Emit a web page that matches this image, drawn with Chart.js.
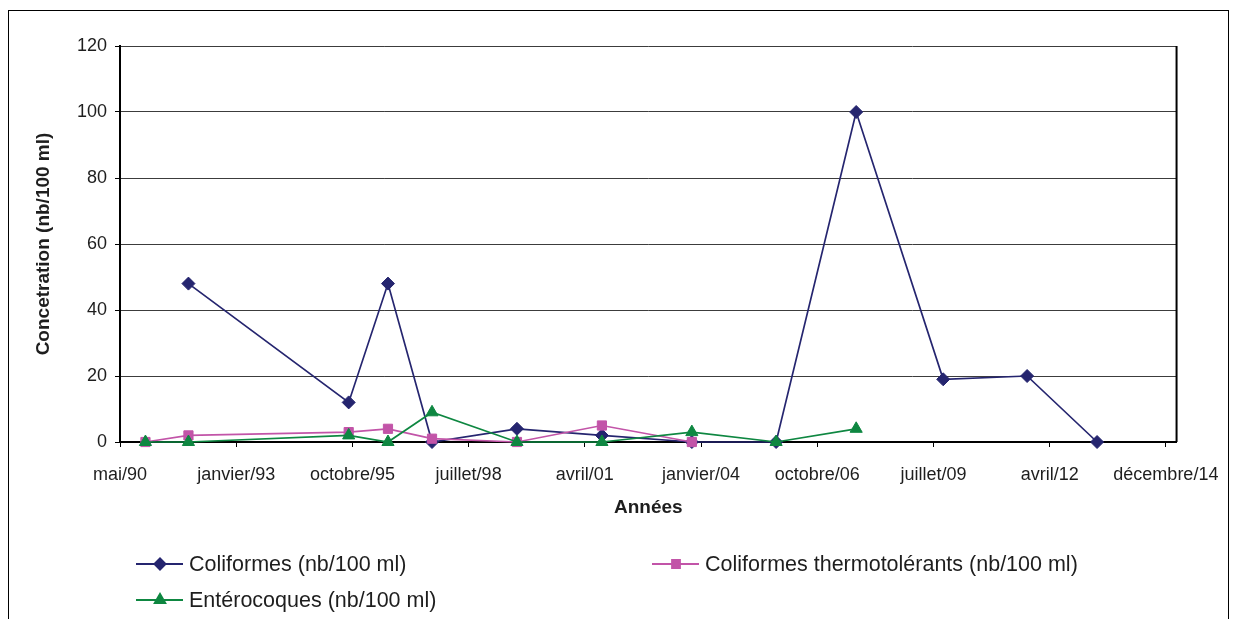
<!DOCTYPE html>
<html lang="fr">
<head>
<meta charset="utf-8">
<title>Concentration - coliformes et entérocoques</title>
<script src="https://cdn.jsdelivr.net/npm/chart.js@4.4.1/dist/chart.umd.min.js"></script>
<style>
  html, body { margin: 0; padding: 0; background: #fff; }
  #wrap { position: relative; width: 1236px; height: 619px; }
</style>
</head>
<body>
<div id="wrap"><canvas id="chart" width="1236" height="619"></canvas></div>
<script>
/* ── Data ────────────────────────────────────────────────────────────────── */
const sampleDates = [
  '1990-12-06', '1991-12-11', '1995-09-20', '1996-08-23', '1997-09-06',
  '1999-09-07', '2001-09-07', '2003-10-21', '2005-10-15', '2007-09-04',
  '2009-09-22', '2011-09-14', '2013-05-08'
];
const coliformes      = [null, 48, 12, 48, 0, 4, 2, 0, 0, 100, 19, 20, 0];
const thermotolerants = [0, 2, 3, 4, 1, 0, 5, 0, null, null, null, null, null];
const enterocoques    = [0, 0, 2, 0, 9, 0, 0, 3, 0, 4, null, null, null];

const seriesNames = [
  'Coliformes (nb/100 ml)',
  'Coliformes thermotolérants (nb/100 ml)',
  'Entérocoques (nb/100 ml)'
];

// axis runs from mai/90, one tick every 1000 days
const axisStart  = '1990-05-01';
const axisEnd    = '2015-03-23';
const tickStep   = 1000;
const tickLabels = [
  'mai/90', 'janvier/93', 'octobre/95', 'juillet/98', 'avril/01',
  'janvier/04', 'octobre/06', 'juillet/09', 'avril/12', 'décembre/14'
];
const yTicks = [0, 20, 40, 60, 80, 100, 120];

/* ── Helpers ─────────────────────────────────────────────────────────────── */
const DAY = 86400000;
function daysFromStart(d) {
  return Math.round((Date.parse(d) - Date.parse(axisStart)) / DAY);
}
function toPoints(values) {
  return sampleDates.map((d, i) => ({ x: daysFromStart(d), y: values[i] }));
}

const FONT = "'Liberation Sans', Arial, sans-serif";
const TEXT = '#1e1e1e';

/* ── Plugins: background frame, plot border, legend ─────────────────────── */
const framePlugin = {
  id: 'frame',
  beforeDraw(chart) {
    const { ctx } = chart;
    ctx.save();
    ctx.fillStyle = '#fff';
    ctx.fillRect(0, 0, chart.width, chart.height);
    ctx.strokeStyle = '#000';
    ctx.lineWidth = 1;
    ctx.strokeRect(8.5, 10.5, 1220, 700);
    ctx.restore();
  },
  beforeDatasetsDraw(chart) {
    const { ctx, chartArea: a } = chart;
    ctx.save();
    ctx.strokeStyle = '#000';
    ctx.lineWidth = 2;
    ctx.beginPath();
    ctx.moveTo(a.right, a.top);
    ctx.lineTo(a.right, a.bottom);
    ctx.stroke();
    ctx.restore();
  }
};

const legendSlots = [
  { x: 136, y: 564 },
  { x: 652, y: 564 },
  { x: 136, y: 600 }
];

const legendPlugin = {
  id: 'sideLegend',
  afterDraw(chart) {
    const { ctx } = chart;
    ctx.save();
    chart.data.datasets.forEach((ds, i) => {
      const s = legendSlots[i];
      ctx.strokeStyle = ds.borderColor;
      ctx.lineWidth = 2;
      ctx.beginPath();
      ctx.moveTo(s.x, s.y);
      ctx.lineTo(s.x + 47, s.y);
      ctx.stroke();
      ctx.fillStyle = ds.backgroundColor;
      ctx.strokeStyle = ds.borderColor;
      Chart.helpers.drawPoint(ctx, {
        pointStyle: ds.pointStyle,
        radius: ds.pointRadius - 1,
        borderWidth: 1,
        rotation: 0
      }, s.x + 24, s.y);
      ctx.fillStyle = TEXT;
      ctx.font = '21.5px ' + FONT;
      ctx.textBaseline = 'middle';
      ctx.textAlign = 'left';
      ctx.fillText(ds.label, s.x + 53, s.y + 1);
    });
    ctx.restore();
  }
};

/* ── Chart ───────────────────────────────────────────────────────────────── */
function makeSeries(label, values, color, style, radius, order) {
  return {
    label,
    data: toPoints(values),
    borderColor: color,
    backgroundColor: color,
    pointBackgroundColor: color,
    pointBorderColor: color,
    pointStyle: style,
    pointRadius: radius,
    pointBorderWidth: 1,
    borderWidth: 1.7,
    tension: 0,
    spanGaps: false,
    clip: false,
    order
  };
}

const ctx = document.getElementById('chart').getContext('2d');
new Chart(ctx, {
  type: 'line',
  data: {
    datasets: [
      makeSeries(seriesNames[0], coliformes,      '#25256F', 'rectRot',  6.5, 3),
      makeSeries(seriesNames[1], thermotolerants, '#C254A8', 'rect',     6.5, 2),
      makeSeries(seriesNames[2], enterocoques,    '#0E8741', 'triangle', 7,   1)
    ]
  },
  options: {
    responsive: false,
    animation: false,
    devicePixelRatio: 1,
    layout: { padding: { top: 46, right: 59, left: 0, bottom: 97 } },
    plugins: {
      legend: { display: false },
      tooltip: { enabled: false }
    },
    scales: {
      x: {
        type: 'linear',
        min: 0,
        max: daysFromStart(axisEnd),
        // one tick per label, every 1000 days from the axis start
        afterBuildTicks: axis => {
          axis.ticks = tickLabels.map((_, i) => ({ value: i * tickStep }));
        },
        afterFit: axis => { axis.height = 80; },
        grid: {
          drawOnChartArea: false,
          drawTicks: true,
          tickLength: 5,
          tickColor: '#000',
          color: '#000'
        },
        border: { color: '#000', width: 2 },
        ticks: {
          padding: 17,
          maxRotation: 0,
          autoSkip: false,
          color: TEXT,
          font: { family: FONT, size: 18 },
          callback: v => tickLabels[Math.round(v / tickStep)]
        },
        title: {
          display: true,
          text: 'Années',
          color: TEXT,
          font: { family: FONT, size: 19, weight: 'bold' },
          padding: { top: 0, bottom: 3 }
        }
      },
      y: {
        min: yTicks[0],
        max: yTicks[yTicks.length - 1],
        afterBuildTicks: axis => {
          axis.ticks = yTicks.map(v => ({ value: v }));
        },
        afterFit: axis => { axis.width = 120; },
        grid: {
          color: '#3c3c3c',
          lineWidth: 1,
          tickLength: 5,
          tickColor: '#000'
        },
        border: { color: '#000', width: 2 },
        ticks: {
          padding: 8,
          color: TEXT,
          font: { family: FONT, size: 18 }
        },
        title: {
          display: true,
          text: 'Concetration (nb/100 ml)',
          color: TEXT,
          font: { family: FONT, size: 19, weight: 'bold' },
          padding: { top: 32, bottom: 0 }
        }
      }
    }
  },
  plugins: [framePlugin, legendPlugin]
});
</script>
</body>
</html>
